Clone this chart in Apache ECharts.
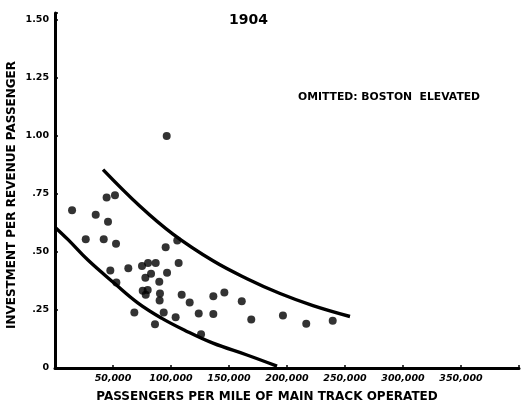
<!DOCTYPE html>
<html>
<head>
<meta charset="utf-8">
<script src="https://cdn.jsdelivr.net/npm/echarts/dist/echarts.min.js"></script>
<style>
html,body{margin:0;padding:0;background:#fff;overflow:hidden;}
#c{width:523px;height:404px;}
</style>
</head>
<body>
<div id="c"></div>
<script>
// Scatter points: [passengers per mile of main track, investment per revenue passenger ($)]
const railwayPoints = [
  [14700, 0.68], [35100, 0.66], [44500, 0.735], [51700, 0.745], [45700, 0.63],
  [26500, 0.555], [42000, 0.555], [52600, 0.535], [95400, 0.52], [105400, 0.55],
  [96300, 1.00], [47700, 0.42], [63200, 0.43], [75000, 0.44], [80200, 0.453],
  [86800, 0.452], [106600, 0.452], [77900, 0.389], [82800, 0.406], [96600, 0.41],
  [52900, 0.369], [89900, 0.372], [75600, 0.333], [79900, 0.336], [78200, 0.316],
  [90500, 0.321], [90200, 0.291], [109200, 0.316], [68400, 0.239], [93700, 0.239],
  [104000, 0.219], [86200, 0.189], [116100, 0.282], [136500, 0.309], [146000, 0.325],
  [161000, 0.288], [123900, 0.235], [136500, 0.233], [169200, 0.209], [196500, 0.226],
  [216600, 0.191], [239400, 0.204], [125900, 0.145]
];
// Hand-drawn upper limit curve
const upperCurve = [
  [41400, 0.855], [73300, 0.697], [101700, 0.577], [136200, 0.462],
  [165500, 0.385], [194000, 0.321], [222400, 0.269], [254300, 0.222]
];
// Hand-drawn lower limit curve
const lowerCurve = [
  [0, 0.607], [11500, 0.552], [28400, 0.465], [51700, 0.363], [71600, 0.280],
  [92200, 0.214], [112100, 0.162], [136200, 0.107], [165500, 0.056], [191400, 0.008]
];
const xTickLabels = {50000:'50,000',100000:'100,000',150000:'150,000',200000:'200,000',250000:'250,000',300000:'300,000',350000:'350,000'};
const yTickLabels = {0:'0',0.25:'.25',0.5:'.50',0.75:'.75',1:'1.00',1.25:'1.25',1.5:'1.50'};
const chartTitle = '1904';
const noteText = 'OMITTED: BOSTON  ELEVATED';
const xAxisName = 'PASSENGERS PER MILE OF MAIN TRACK OPERATED';
const yAxisName = 'INVESTMENT PER REVENUE PASSENGER';

const FONT = 'DejaVu Sans';
const chart = echarts.init(document.getElementById('c'));
chart.setOption({
  backgroundColor: '#fff',
  animation: false,
  title: [
    {text: chartTitle, left: 229, top: 13, padding: 0, textStyle: {fontFamily: FONT, fontWeight: 'bold', fontSize: 14, color: '#000'}},
    {text: noteText, left: 298, top: 92, padding: 0, textStyle: {fontFamily: FONT, fontWeight: 'bold', fontSize: 10.8, color: '#000'}}
  ],
  graphic: [
    {type: 'text', x: 267, y: 397, style: {text: xAxisName, font: 'bold 12px "DejaVu Sans"', fill: '#000', textAlign: 'center', textVerticalAlign: 'middle'}},
    {type: 'text', x: 12, y: 195, rotation: Math.PI / 2, style: {text: yAxisName, font: 'bold 12px "DejaVu Sans"', fill: '#000', textAlign: 'center', textVerticalAlign: 'middle'}}
  ],
  grid: {left: 55, right: 4, top: 13, bottom: 36, containLabel: false, outerBoundsMode: 'none'},
  xAxis: {
    type: 'value', min: 0, max: 400000, interval: 50000,
    axisLine: {show: true, lineStyle: {color: '#000', width: 3}},
    axisTick: {show: true, inside: true, length: 3, lineStyle: {color: '#000', width: 1.5}},
    axisLabel: {
      fontFamily: FONT, fontWeight: 'bold', fontStyle: 'italic', fontSize: 9.5, color: '#000', margin: 6,
      formatter: v => xTickLabels[v] || ''
    },
    splitLine: {show: false}
  },
  yAxis: {
    type: 'value', min: 0, max: 1.53, interval: 0.25,
    axisLine: {show: true, lineStyle: {color: '#000', width: 3}},
    axisTick: {show: true, inside: true, length: 3, lineStyle: {color: '#000', width: 1.5}},
    axisLabel: {
      fontFamily: FONT, fontWeight: 'bold', fontSize: 9.5, color: '#000', margin: 6,
      formatter: v => { const k = Math.round(v * 100) / 100; return yTickLabels[k] !== undefined ? yTickLabels[k] : ''; }
    },
    splitLine: {show: false}
  },
  series: [
    {type: 'line', data: upperCurve, smooth: 0.4, showSymbol: false, lineStyle: {color: '#000', width: 3.4}, z: 2},
    {type: 'line', data: lowerCurve, smooth: 0.4, showSymbol: false, lineStyle: {color: '#000', width: 3.4}, z: 2},
    {type: 'scatter', data: railwayPoints, symbol: 'circle', symbolSize: 8, itemStyle: {color: '#000'}, z: 3}
  ]
});
</script>
</body>
</html>
